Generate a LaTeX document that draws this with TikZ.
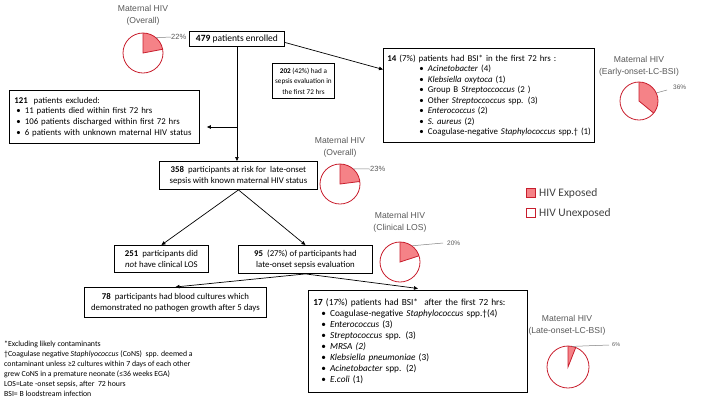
\documentclass[tikz,border=0pt]{standalone}
\usepackage{fontspec}
\setmainfont{Carlito}
\newfontfamily\arialf{Liberation Sans}
\usetikzlibrary{arrows.meta,calc}
\definecolor{pieline}{RGB}{200,30,45}
\definecolor{piefill}{RGB}{245,130,135}
\definecolor{titlegrey}{RGB}{89,89,89}
\definecolor{leggrey}{RGB}{64,64,64}
\tikzset{
  box/.style={draw=black, line width=0.9pt, anchor=north west, inner sep=0pt,
    font=\fontsize{8.8}{10.7}\selectfont, align=center},
  lbox/.style={box, align=left},
  arr/.style={-{Triangle[length=4pt,width=3.5pt]}, line width=0.7pt},
  pietitle/.style={font=\arialf\fontsize{8.6}{12}\selectfont, text=titlegrey, align=center, inner sep=0pt},
  pct/.style={font=\arialf\fontsize{7.5}{9}\selectfont, text=titlegrey, inner sep=0pt, anchor=west},
  leader/.style={draw=gray, line width=0.5pt},
  legsq/.style={draw=pieline, line width=0.8pt, minimum size=8.5pt, inner sep=0pt},
  legtext/.style={font=\fontsize{11.5}{13}\selectfont, text=leggrey, anchor=west, inner sep=0pt},
  foot/.style={font=\fontsize{7.8}{10}\selectfont, align=left, anchor=north west, inner sep=0pt},
}
\newcommand{\mypie}[5]{% name, x, y, pct, radius
  \coordinate (#1) at (#2,#3);
  \fill[piefill] (#1) -- ++(90:#5) arc[start angle=90, end angle={90-3.6*#4}, radius=#5] -- cycle;
  \draw[pieline, line width=0.8pt] (#1) circle[radius=#5];
  \draw[pieline, line width=0.8pt] ($(#1)+(90:#5)$) -- (#1) -- ($(#1)+({90-3.6*#4}:#5)$);
}
\newcommand{\bul}[2]{\mbox{\hspace*{#1}\textbullet\hspace{4pt}#2}}
\begin{document}
\begin{tikzpicture}[x=1pt,y=-1pt]
\useasboundingbox (0,0) rectangle (720,405);

% boxes
\node[box, minimum width=95pt, minimum height=15pt, font=\fontsize{9.5}{11}\selectfont] (b479) at (189,31) {\textbf{479} patients enrolled};
\node[box, minimum width=62pt, minimum height=35pt, font=\fontsize{7.2}{10.5}\selectfont] (b202) at (272,63)
  {\textbf{202} (42\%) had a\\sepsis evaluation in\\the first 72 hrs};
\node[lbox, text width=207pt, inner xsep=2pt, minimum height=94pt, font=\fontsize{8.9}{10.5}\selectfont] (b14) at (383,48)
  {\mbox{\hspace*{2pt}\textbf{14} (7\%) patients had BSI* in the first 72 hrs :}\\
   \bul{34pt}{\textit{Acinetobacter} (4)}\\
   \bul{34pt}{\textit{Klebsiella oxytoca} (1)}\\
   \bul{34pt}{Group B \textit{Streptoccoccus} (2 )}\\
   \bul{34pt}{Other \textit{Streptoccoccus} spp. (3)}\\
   \bul{34pt}{\textit{Enterococcus} (2)}\\
   \bul{34pt}{\textit{S. aureus} (2)}\\
   \bul{34pt}{Coagulase-negative \textit{Staphylococcus} spp.† (1)}};
\node[lbox, text width=180pt, inner xsep=5pt, minimum height=53pt] (b121) at (9,90)
  {\textbf{121} \ patients excluded:\\
   \bul{2pt}{11 patients died within first 72 hrs}\\
   \bul{2pt}{106 patients discharged within first 72 hrs}\\
   \bul{2pt}{6 patients with unknown maternal HIV status}};
\node[box, minimum width=158pt, minimum height=28pt] (b358) at (159,161)
  {\textbf{358} \ participants at risk for \ late-onset\\sepsis with known maternal HIV status};
\node[box, minimum width=94pt, minimum height=27pt] (b251) at (114,245)
  {\textbf{251} \ participants did\\\textit{not} have clinical LOS};
\node[box, minimum width=134pt, minimum height=28pt] (b95) at (238,245)
  {\textbf{95} \ (27\%) of participants had\\late-onset sepsis evaluation};
\node[box, minimum width=182pt, minimum height=30pt] (b78) at (84,287)
  {\textbf{78} \ participants had blood cultures which\\demonstrated no pathogen growth after 5 days};
\node[lbox, text width=209pt, inner xsep=5pt, minimum height=102pt, font=\fontsize{9.3}{11}\selectfont] (b17) at (308,290)
  {\textbf{17} (17\%) patients had BSI*\ \ after the first 72 hrs:\\
   \bul{8pt}{Coagulase-negative \textit{Staphylococcus} spp.†(4)}\\
   \bul{8pt}{\textit{Enterococcus} (3)}\\
   \bul{8pt}{\textit{Streptococcus} spp. (3)}\\
   \bul{8pt}{\textit{MRSA (2)}}\\
   \bul{8pt}{\textit{Klebsiella pneumoniae} (3)}\\
   \bul{8pt}{\textit{Acinetobacter} spp. (2)}\\
   \bul{8pt}{\textit{E.coli} (1)}};

% connectors
\coordinate (j) at (236.5,127);
\draw[arr] (b479.south) -- (b479.south |- b358.north);
\draw[arr] (j) -- ([xshift=7pt]j -| b121.east);
\draw[arr] ([yshift=-3.5pt]b479.east) -- ([yshift=26pt]b14.west);
\draw[arr] (b358.south) -- (b251.north);
\draw[arr] (b358.south) -- (b95.north);
\draw[arr] (b95.south) -- (b78.north);
\draw[arr] (b95.south) -- ([yshift=1.5pt]b17.north);

% pies
\node[pietitle] (t1) at (143,15) {Maternal HIV\\(Overall)};
\mypie{p1}{143}{53}{22}{20pt}
\node[pct] (l1) at (171,37) {22\%};
\draw[leader] ($(p1)+(50:20pt)$) -- (l1.west);

\node[pietitle] (t2) at (340,147) {Maternal HIV\\(Overall)};
\mypie{p2}{340}{184}{23}{20pt}
\node[pct] (l2) at (370,169) {23\%};
\draw[leader] ($(p2)+(49:20pt)$) -- (l2.west);

\node[pietitle] (t3) at (639,66) {Maternal HIV\\(Early-onset-LC-BSI)};
\mypie{p3}{639}{101}{36}{19pt}
\node[pct, font=\arialf\fontsize{6.5}{8}\selectfont] (l3) at (673,87) {36\%};
\draw[leader] ($(p3)+(25:19pt)$) -- ([xshift=-6pt,yshift=-3pt]l3.west);

\node[pietitle] (t4) at (400,222.5) {Maternal HIV\\(Clinical LOS)};
\mypie{p4}{400}{262}{20}{20pt}
\node[pct, font=\arialf\fontsize{6.5}{8}\selectfont] (l4) at (447,243) {20\%};
\draw[leader] ($(p4)+(54:20pt)$) -- ([xshift=-4pt]l4.west);

\node[pietitle] (t5) at (567,325.5) {Maternal HIV\\(Late-onset-LC-BSI)};
\mypie{p5}{568}{367}{6}{21pt}
\node[pct, font=\arialf\fontsize{5.5}{7}\selectfont] (l5) at (612,345) {6\%};
\draw[leader] ($(p5)+(79:21pt)$) -- ([xshift=-3pt]l5.west);

% legend
\node[legsq, fill=piefill] (q1) at (531,193) {};
\node[legtext] (lt1) at (539,193) {HIV Exposed};
\node[legsq, fill=white] (q2) at (531,213) {};
\node[legtext] (lt2) at (539,213) {HIV Unexposed};

% footnotes
\node[foot] (fn) at (4,341) {*Excluding likely contaminants\\
†Coagulase negative \textit{Staphlyococcus} (CoNS)\ \ spp. deemed a\\
contaminant unless ≥2 cultures within 7 days of each other\\
grew CoNS in a premature neonate (≤36 weeks EGA)\\
LOS=Late -onset sepsis, after\ \ 72 hours\\
BSI= B loodstream infection};
\end{tikzpicture}
\end{document}
